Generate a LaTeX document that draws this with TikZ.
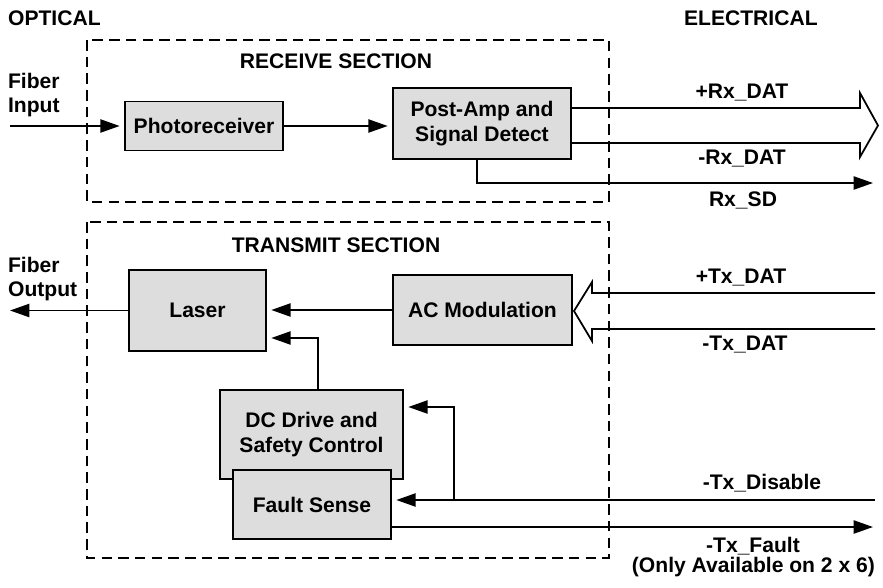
\documentclass[tikz,border=0pt]{standalone}
\usepackage{fontspec}
\setmainfont{Liberation Sans}
\usepackage{xcolor}
\usetikzlibrary{arrows.meta,positioning}
\definecolor{boxgray}{HTML}{DDDDDD}

\begin{document}
\begin{tikzpicture}[
    x=0.02cm, y=-0.02cm,
    font=\fontsize{12}{14}\selectfont\bfseries,
    block/.style={draw, line width=1.1pt, fill=boxgray, align=center, inner sep=2pt},
    section/.style={draw, line width=1pt, dash pattern=on 6pt off 3.5pt},
    lbl/.style={inner sep=1pt, align=center},
    wire/.style={line width=1pt},
    arr/.style={-{Triangle[length=11pt, width=7.5pt]}, line width=1pt},
    toblock/.style={arr, shorten >=2.5pt}
]
    \useasboundingbox (0,0) rectangle (883,588);

    % side headings
    \node[lbl, anchor=west] (optical) at (6,18) {OPTICAL};
    \node[lbl, anchor=west] (electrical) at (682,18) {ELECTRICAL};

    % receive section
    \draw[section] (87,40) rectangle (609,202);
    \node[lbl] (rxtitle) at (336,61) {RECEIVE SECTION};
    \node[lbl, anchor=west, align=left] (fibin) at (6,95) {Fiber\\Input};
    \node[block, minimum width=3.16cm, minimum height=0.98cm] (photo) at (204,126) {Photoreceiver};
    \node[block, minimum width=3.56cm, minimum height=1.42cm] (post) at (482,123.5) {Post-Amp and\\Signal Detect};

    % transmit section
    \draw[section] (87,222) rectangle (609,558);
    \node[lbl] (txtitle) at (336,245.5) {TRANSMIT SECTION};
    \node[lbl, anchor=west, align=left] (fibout) at (6,279) {Fiber\\Output};
    \node[block, minimum width=2.74cm, minimum height=1.62cm] (laser) at (197.5,310.5) {Laser};
    \node[block, minimum width=3.58cm, minimum height=1.4cm] (acmod) at (482.5,310) {AC Modulation};
    \node[block, minimum width=3.66cm, minimum height=1.78cm] (dcdrive) at (311.5,434.5) {DC Drive and\\Safety Control};
    \node[block, minimum width=3.16cm, minimum height=1.38cm] (fault) at (312,504.5) {Fault Sense};

    % signal names
    \node[lbl] (rxp) at (742,93) {+Rx\_DAT};
    \node[lbl] (rxn) at (742,159) {-Rx\_DAT};
    \node[lbl] (rxsd) at (743,200) {Rx\_SD};
    \node[lbl] (txp) at (741,278) {+Tx\_DAT};
    \node[lbl] (txn) at (745,345) {-Tx\_DAT};
    \node[lbl] (txdis) at (762,483) {-Tx\_Disable};
    \node[lbl] (txflt) at (753,546) {-Tx\_Fault};
    \node[lbl, anchor=east] (txnote) at (877,567) {(Only Available on 2 x 6)};

    % end points of the open wires
    \coordinate (inend) at (10,126);
    \coordinate (outend) at (10,310.5);
    \coordinate (sdend) at (873,183);
    \coordinate (disend) at (875,500);
    \coordinate (tap) at (454,500);
    \coordinate (fltend) at (873,527);

    % hollow bus arrows
    \coordinate (rxhi) at (860,108);
    \coordinate (rxlo) at (860,143);
    \coordinate (rxtop) at (860,93);
    \coordinate (rxbot) at (860,157);
    \coordinate (rxtip) at (878,125.5);
    \coordinate (txhi) at (592,293);
    \coordinate (txlo) at (592,329);
    \coordinate (txtop) at (592,282);
    \coordinate (txbot) at (592,341);
    \coordinate (txtip) at (574,311);
    \coordinate (txhiend) at (875,293);
    \coordinate (txloend) at (875,329);

    % receive path
    \draw[toblock] (inend) -- (photo.west);
    \draw[toblock] (photo.east) -- (photo.east -| post.west);
    \draw[wire] (post.east |- rxhi) -- (rxhi) -- (rxtop) -- (rxtip) -- (rxbot) -- (rxlo) -- (post.east |- rxlo);
    \draw[arr] ([xshift=-0.1cm]post.south) |- (sdend);

    % transmit path
    \draw[arr] (laser.west) -- (outend);
    \draw[toblock] (acmod.west) -- (acmod.west -| laser.east);
    \draw[wire] (txhiend) -- (txhi) -- (txtop) -- (txtip) -- (txbot) -- (txlo) -- (txloend);
    \draw[toblock] ([xshift=0.13cm]dcdrive.north) |- ([yshift=-0.55cm]laser.east);
    \draw[toblock] (disend) -- (disend -| fault.east);
    \draw[toblock] (tap) |- ([yshift=0.55cm]dcdrive.east);
    \draw[arr] (fault.east |- fltend) -- (fltend);
\end{tikzpicture}
\end{document}
